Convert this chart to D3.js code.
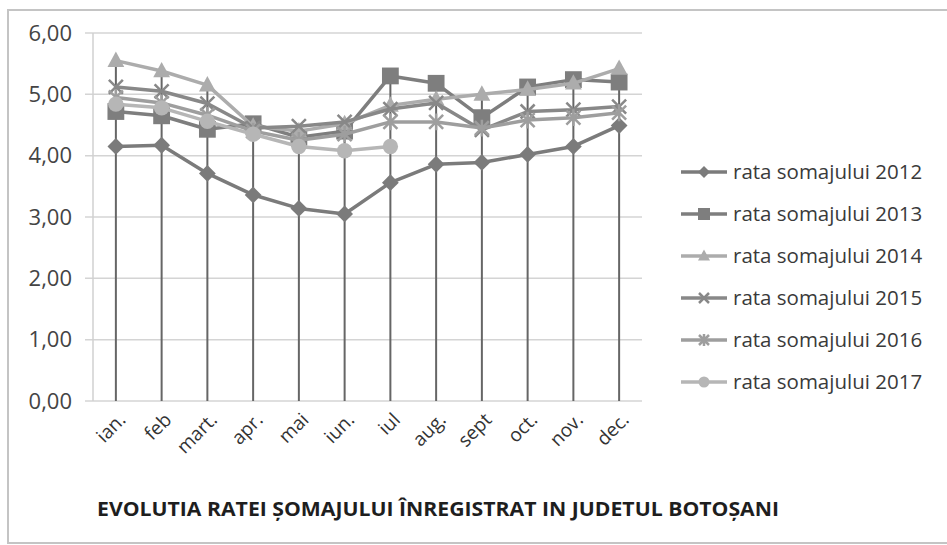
<!DOCTYPE html>
<html lang="ro">
<head>
  <meta charset="UTF-8">
  <title>Evolutia ratei somajului</title>
  <script src="https://d3js.org/d3.v7.min.js"></script>
  <style>
    body { margin: 0; padding: 0; background: #fff; }
    svg { display: block; font-family: "Open Sans", sans-serif; }
  </style>
</head>
<body>
  <svg id="chart"></svg>
  <script>
    // data
    const months = ["ian.", "feb", "mart.", "apr.", "mai", "iun.", "iul", "aug.", "sept", "oct.", "nov.", "dec."];
    const yTicks = [0, 1, 2, 3, 4, 5, 6];
    const seriesNames = ["rata somajului 2012", "rata somajului 2013", "rata somajului 2014",
      "rata somajului 2015", "rata somajului 2016", "rata somajului 2017"];
    const rate2012 = [4.15, 4.17, 3.71, 3.36, 3.14, 3.05, 3.56, 3.86, 3.89, 4.02, 4.15, 4.49];
    const rate2013 = [4.72, 4.65, 4.43, 4.52, 4.30, 4.40, 5.30, 5.18, 4.62, 5.12, 5.24, 5.20];
    const rate2014 = [5.55, 5.38, 5.15, 4.48, 4.40, 4.52, 4.82, 4.92, 5.00, 5.08, 5.18, 5.42];
    const rate2015 = [5.12, 5.05, 4.85, 4.45, 4.48, 4.55, 4.76, 4.86, 4.42, 4.72, 4.75, 4.80];
    const rate2016 = [4.95, 4.86, 4.66, 4.40, 4.25, 4.35, 4.55, 4.55, 4.45, 4.58, 4.62, 4.70];
    const rate2017 = [4.84, 4.78, 4.56, 4.35, 4.15, 4.08, 4.15];

    const width = 947;
    const height = 545;

    const series = [
      { name: seriesNames[0], values: rate2012, color: "#7b7b7b", marker: "diamond" },
      { name: seriesNames[1], values: rate2013, color: "#7e7e7e", marker: "square" },
      { name: seriesNames[2], values: rate2014, color: "#acacac", marker: "triangle" },
      { name: seriesNames[3], values: rate2015, color: "#888888", marker: "x" },
      { name: seriesNames[4], values: rate2016, color: "#9e9e9e", marker: "star" },
      { name: seriesNames[5], values: rate2017, color: "#b6b6b6", marker: "circle" }
    ];

    const svg = d3.select("#chart")
      .attr("width", width)
      .attr("height", height)
      .attr("viewBox", [0, 0, width, height]);

    // chart border
    svg.append("rect")
      .attr("x", 8).attr("y", 10)
      .attr("width", width + 4).attr("height", 533)
      .attr("fill", "none")
      .attr("stroke", "#c4c4c4")
      .attr("stroke-width", 2);

    const plot = { left: 93, right: 642, top: 33, bottom: 401 };

    const x = d3.scaleBand()
      .domain(months)
      .range([plot.left, plot.right]);
    const cx = m => x(m) + x.bandwidth() / 2;

    const y = d3.scaleLinear()
      .domain([0, 6])
      .range([plot.bottom, plot.top]);

    // horizontal gridlines
    svg.append("g")
      .selectAll("line")
      .data(yTicks)
      .join("line")
      .attr("x1", plot.left - 8)
      .attr("x2", plot.right)
      .attr("y1", d => y(d))
      .attr("y2", d => y(d))
      .attr("stroke", "#d4d4d4")
      .attr("stroke-width", 1.5);

    // vertical axis line
    svg.append("line")
      .attr("x1", plot.left).attr("x2", plot.left)
      .attr("y1", plot.top).attr("y2", plot.bottom)
      .attr("stroke", "#d0d0d0")
      .attr("stroke-width", 1.5);

    // y axis labels
    const yAxis = svg.append("g")
      .attr("transform", `translate(${plot.left - 21},0)`)
      .call(d3.axisLeft(y).tickValues(yTicks).tickSize(0).tickPadding(0)
        .tickFormat(d => d.toFixed(2).replace(".", ",")));
    yAxis.select(".domain").remove();
    yAxis.selectAll("text")
      .attr("font-size", 22)
      .attr("font-family", "Open Sans, sans-serif")
      .attr("fill", "#444");

    // x axis labels, rotated
    const xAxis = svg.append("g")
      .attr("transform", `translate(0,${plot.bottom})`)
      .call(d3.axisBottom(x).tickSize(0).tickPadding(0));
    xAxis.select(".domain").remove();
    xAxis.selectAll("text")
      .attr("font-size", 19)
      .attr("font-family", "Open Sans, sans-serif")
      .attr("fill", "#333")
      .attr("text-anchor", "end")
      .attr("dy", null)
      .attr("transform", "translate(11,20) rotate(-45)");

    // drop lines from the highest point of each month down to the axis
    const tops = months.map((m, i) => d3.max(series, s => s.values[i]));
    svg.append("g")
      .selectAll("line")
      .data(months)
      .join("line")
      .attr("x1", d => cx(d))
      .attr("x2", d => cx(d))
      .attr("y1", (d, i) => y(tops[i]))
      .attr("y2", y(0))
      .attr("stroke", "#666")
      .attr("stroke-width", 2);

    const line = d3.line()
      .x((d, i) => cx(months[i]))
      .y(d => y(d));

    function drawMarker(g, type, color, size) {
      const s = size;
      if (type === "diamond") {
        g.append("path").attr("d", `M0,${-s * 0.6}L${s * 0.6},0L0,${s * 0.6}L${-s * 0.6},0Z`).attr("fill", color);
      } else if (type === "square") {
        g.append("rect").attr("x", -s * 0.6).attr("y", -s * 0.6).attr("width", s * 1.2).attr("height", s * 1.2).attr("fill", color);
      } else if (type === "triangle") {
        g.append("path").attr("d", `M0,${-s * 0.65}L${s * 0.6},${s * 0.45}L${-s * 0.6},${s * 0.45}Z`).attr("fill", color);
      } else if (type === "x") {
        g.append("path").attr("d", `M${-s / 2},${-s / 2}L${s / 2},${s / 2}M${s / 2},${-s / 2}L${-s / 2},${s / 2}`)
          .attr("stroke", color).attr("stroke-width", 2.5);
      } else if (type === "star") {
        g.append("path").attr("d", `M${-s / 2},${-s / 2}L${s / 2},${s / 2}M${s / 2},${-s / 2}L${-s / 2},${s / 2}M0,${-s * 0.6}L0,${s * 0.6}`)
          .attr("stroke", color).attr("stroke-width", 2.5);
      } else {
        g.append("circle").attr("r", s * 0.55).attr("fill", color);
      }
    }

    // series lines and markers
    series.forEach(s => {
      svg.append("path")
        .datum(s.values)
        .attr("fill", "none")
        .attr("stroke", s.color)
        .attr("stroke-width", 3.5)
        .attr("stroke-linejoin", "round")
        .attr("d", line);

      svg.append("g")
        .selectAll("g")
        .data(s.values)
        .join("g")
        .attr("transform", (d, i) => `translate(${cx(months[i])},${y(d)})`)
        .each(function () { drawMarker(d3.select(this), s.marker, s.color, 14); });
    });

    // legend
    const legend = svg.append("g")
      .selectAll("g")
      .data(series)
      .join("g")
      .attr("transform", (d, i) => `translate(681,${172 + i * 42})`);

    legend.append("line")
      .attr("x1", 0).attr("x2", 46)
      .attr("stroke", d => d.color)
      .attr("stroke-width", 3.5);

    legend.each(function (d) {
      const g = d3.select(this).append("g").attr("transform", "translate(23,0)");
      drawMarker(g, d.marker, d.color, 10);
    });

    legend.append("text")
      .attr("x", 52)
      .attr("dy", "0.35em")
      .attr("font-size", 20.5)
      .attr("fill", "#3a3a3a")
      .text(d => d.name);

    // title under the chart
    svg.append("text")
      .attr("x", 97)
      .attr("y", 516)
      .attr("font-size", 19)
      .attr("font-weight", "bold")
      .attr("fill", "#1e1e1e")
      .attr("textLength", 682)
      .attr("lengthAdjust", "spacingAndGlyphs")
      .text("EVOLUTIA RATEI ŞOMAJULUI ÎNREGISTRAT IN JUDETUL BOTOŞANI");
  </script>
</body>
</html>
